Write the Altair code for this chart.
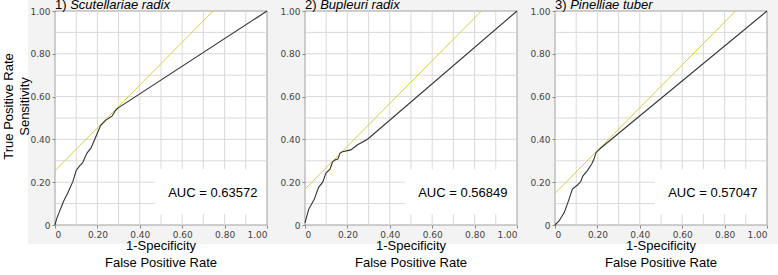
import altair as alt
import pandas as pd

# ---------------- data ----------------
panel_numbers = ["1)", "2)", "3)"]
panel_names = ["Scutellariae radix", "Bupleuri radix", "Pinelliae tuber"]
auc_labels = ["AUC = 0.63572", "AUC = 0.56849", "AUC = 0.57047"]
x_title_lines = ["1-Specificity", "False Positive Rate"]
y_title_lines = ["True Positive Rate", "Sensitivity"]

roc_fpr_1 = [0, 0.008, 0.02, 0.04, 0.06, 0.085, 0.10, 0.115, 0.13, 0.15, 0.17, 0.185,
             0.20, 0.215, 0.24, 0.27, 0.285, 0.295, 1.0]
roc_tpr_1 = [0, 0.03, 0.06, 0.11, 0.15, 0.205, 0.255, 0.275, 0.29, 0.335, 0.36, 0.395,
             0.43, 0.465, 0.49, 0.51, 0.535, 0.545, 1.0]

roc_fpr_2 = [0, 0.017, 0.044, 0.064, 0.083, 0.099, 0.118, 0.130, 0.143, 0.155, 0.165,
             0.177, 0.216, 0.248, 0.295, 1.0]
roc_tpr_2 = [0.01, 0.072, 0.121, 0.176, 0.199, 0.243, 0.261, 0.295, 0.305, 0.308, 0.336,
             0.342, 0.351, 0.375, 0.401, 1.0]

roc_fpr_3 = [0, 0.020, 0.044, 0.064, 0.082, 0.106, 0.121, 0.132, 0.152, 0.173, 0.184,
             0.194, 0.207, 0.219, 1.0]
roc_tpr_3 = [0, 0.020, 0.059, 0.114, 0.168, 0.187, 0.202, 0.230, 0.253, 0.285, 0.308,
             0.339, 0.351, 0.362, 1.0]

tangent_x_1 = [0, 0.746]
tangent_y_1 = [0.254, 1.0]
tangent_x_2 = [0, 0.832]
tangent_y_2 = [0.168, 1.0]
tangent_x_3 = [0, 0.852]
tangent_y_3 = [0.148, 1.0]

grid_values = [0.1, 0.2, 0.3, 0.4, 0.5, 0.6, 0.7, 0.8, 0.9]
tick_values = [round(i * 0.05, 2) for i in range(21)]

# ---------------- styling ----------------
W, H = 212, 214
LABEL_FONT = "DejaVu Sans"
TITLE_FONT = "Liberation Sans"
YELLOW = "#d9d040"
LINE = "#333333"
GRID = "#d9d9d9"
BORDER = "#a0a0a0"
BAND = "#f3f3f3"

x_label_expr = ("abs(round(datum.value*100)) % 20 == 0 ? "
                "(datum.value == 0 ? '0' : format(datum.value, '.2f')) : ''")
y_label_expr = ("abs(round(datum.value*100)) % 10 == 0 ? "
                "(datum.value == 0 ? '0' : format(datum.value, '.2f')) : ''")

sc = alt.Scale(domain=[0, 1], nice=False, zero=False)

common_axis = dict(values=tick_values, grid=False, domain=False, tickSize=3,
                   tickColor="#888888", labelFont=LABEL_FONT, labelFontSize=9,
                   labelColor="#444444", labelPadding=2, labelOverlap=False,
                   title=None, zindex=1)
xa = alt.Axis(labelExpr=x_label_expr, **common_axis)
ya = alt.Axis(labelExpr=y_label_expr, **common_axis)


def X(f):
    return alt.X(f, type="quantitative", scale=sc, axis=xa)


def Y(f):
    return alt.Y(f, type="quantitative", scale=sc, axis=ya)


def panel(i, fpr, tpr, tx, ty, first):
    one = alt.Data(values=[{}])
    layers = []

    if first:
        # invisible frame that fixes the figure's outer extent
        layers.append(alt.Chart(one).mark_rect(opacity=0).encode(
            x=alt.value(-55), x2=alt.value(0), y=alt.value(-12), y2=alt.value(H + 46)))

    layers.append(alt.Chart(one).mark_rect(color=BAND).encode(
        x=alt.value(-27), x2=alt.value(W + 11), y=alt.value(-12), y2=alt.value(H + 19)))

    frame = pd.DataFrame({"x0": [0.0], "x1": [1.0], "y0": [0.0], "y1": [1.0]})
    layers.append(alt.Chart(frame).mark_rect(fill="white", stroke=BORDER, strokeWidth=1).encode(
        x=X("x0"), x2="x1", y=Y("y0"), y2="y1"))

    grid = pd.DataFrame({"v": grid_values})
    layers.append(alt.Chart(grid).mark_rule(color=GRID, strokeWidth=1).encode(
        x=X("v"), y=alt.datum(0), y2=alt.datum(1)))
    layers.append(alt.Chart(grid).mark_rule(color=GRID, strokeWidth=1).encode(
        y=Y("v"), x=alt.datum(0), x2=alt.datum(1)))

    box = pd.DataFrame({"x0": [0.47], "x1": [0.995], "y0": [0.05], "y1": [0.26]})
    layers.append(alt.Chart(box).mark_rect(fill="white").encode(
        x=X("x0"), x2="x1", y=Y("y0"), y2="y1"))

    tan = pd.DataFrame({"fpr": tx, "tpr": ty})
    layers.append(alt.Chart(tan).mark_line(color=YELLOW, strokeWidth=1).encode(
        x=X("fpr"), y=Y("tpr")))

    roc = pd.DataFrame({"fpr": fpr, "tpr": tpr, "k": list(range(len(fpr)))})
    layers.append(alt.Chart(roc).mark_line(color=LINE, strokeWidth=1.1).encode(
        x=X("fpr"), y=Y("tpr"), order="k:Q"))

    auc = pd.DataFrame({"x": [0.955], "y": [0.15], "t": [auc_labels[i]]})
    layers.append(alt.Chart(auc).mark_text(align="right", baseline="middle", font=TITLE_FONT,
                                           fontSize=13, color="black").encode(
        x=X("x"), y=Y("y"), text="t:N"))

    ttl = pd.DataFrame({"x": [0.0], "y": [1.0], "n": [panel_numbers[i]], "m": [panel_names[i]]})
    layers.append(alt.Chart(ttl).mark_text(align="left", baseline="alphabetic", dy=-2.5,
                                           font=TITLE_FONT, fontSize=13, color="black").encode(
        x=X("x"), y=Y("y"), text="n:N"))
    layers.append(alt.Chart(ttl).mark_text(align="left", baseline="alphabetic", dy=-2.5, dx=15.2,
                                           font=TITLE_FONT, fontSize=13, fontStyle="italic",
                                           color="black").encode(
        x=X("x"), y=Y("y"), text="m:N"))

    # x-axis title (two lines)
    layers.append(alt.Chart(pd.DataFrame({"t": [x_title_lines[0]]})).mark_text(
        align="center", baseline="middle", font=TITLE_FONT, fontSize=13, color="black").encode(
        x=alt.value(W / 2), y=alt.value(H + 21), text="t:N"))
    layers.append(alt.Chart(pd.DataFrame({"t": [x_title_lines[1]]})).mark_text(
        align="center", baseline="middle", font=TITLE_FONT, fontSize=13, color="black").encode(
        x=alt.value(W / 2), y=alt.value(H + 38), text="t:N"))

    if first:
        layers.append(alt.Chart(pd.DataFrame({"t": [y_title_lines[0]]})).mark_text(
            align="center", baseline="middle", angle=270, font=TITLE_FONT, fontSize=13,
            color="black").encode(x=alt.value(-46), y=alt.value(95.5), text="t:N"))
        layers.append(alt.Chart(pd.DataFrame({"t": [y_title_lines[1]]})).mark_text(
            align="center", baseline="middle", angle=270, font=TITLE_FONT, fontSize=13,
            color="black").encode(x=alt.value(-30), y=alt.value(95.5), text="t:N"))

    return alt.layer(*layers).properties(width=W, height=H)


p1 = panel(0, roc_fpr_1, roc_tpr_1, tangent_x_1, tangent_y_1, True)
p2 = panel(1, roc_fpr_2, roc_tpr_2, tangent_x_2, tangent_y_2, False)
p3 = panel(2, roc_fpr_3, roc_tpr_3, tangent_x_3, tangent_y_3, False)

chart = alt.HConcatChart(hconcat=[p1, p2, p3], spacing=38, bounds="flush").properties(
    padding={"left": 0, "top": -2, "right": 0, "bottom": 0}, background="white"
).configure_view(strokeWidth=0)

chart.save("out.html", embed_options={"renderer": "svg", "actions": False})
